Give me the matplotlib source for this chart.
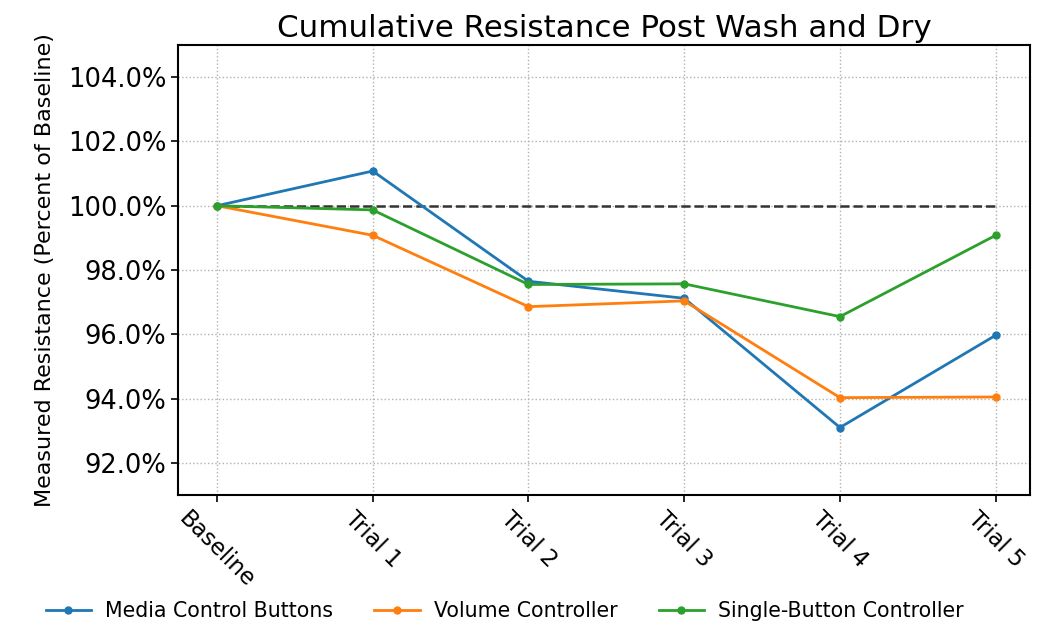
import matplotlib
matplotlib.use("Agg")
import matplotlib.pyplot as plt
from matplotlib.ticker import FuncFormatter

# Categories and measured resistance (percent of baseline)
categories = ["Baseline", "Trial 1", "Trial 2", "Trial 3", "Trial 4", "Trial 5"]
media_control = [100.0, 101.08, 97.65, 97.12, 93.10, 95.97]
volume_controller = [100.0, 99.08, 96.86, 97.04, 94.03, 94.05]
single_button = [100.0, 99.87, 97.55, 97.57, 96.55, 99.08]
reference_level = [100.0] * len(categories)
y_ticks = [92, 94, 96, 98, 100, 102, 104]

plt.rcParams["font.family"] = ["DejaVu Sans"]

fig = plt.figure(figsize=(10.41, 6.27), dpi=100)
ax = fig.add_axes([0.171, 0.2105, 0.8184, 0.7177])

x = list(range(len(categories)))

ax.plot(x, reference_level, linestyle="--", color="#333333", linewidth=1.8, zorder=2)
ax.plot(x, media_control, marker="o", markersize=5, linewidth=2.0,
        color="#1f77b4", label="Media Control Buttons", zorder=3)
ax.plot(x, volume_controller, marker="o", markersize=5, linewidth=2.0,
        color="#ff7f0e", label="Volume Controller", zorder=3)
ax.plot(x, single_button, marker="o", markersize=5, linewidth=2.0,
        color="#2ca02c", label="Single-Button Controller", zorder=4)

ax.set_xlim(-0.25, 5.22)
ax.set_ylim(91, 105)
ax.set_xticks(x)
ax.set_xticklabels(categories, rotation=-45, fontsize=16.5)
ax.set_yticks(y_ticks)
ax.yaxis.set_major_formatter(FuncFormatter(lambda v, _: f"{v:.1f}%"))
ax.tick_params(axis="y", labelsize=18.5, length=5, width=1.2)
ax.tick_params(axis="x", length=5, width=1.2)

ax.grid(True, linestyle=":", color="#b0b0b0", linewidth=1.0)
for spine in ax.spines.values():
    spine.set_linewidth(1.5)
    spine.set_color("black")

ax.set_ylabel("Measured Resistance (Percent of Baseline)", fontsize=16, labelpad=9)
ax.set_title("Cumulative Resistance Post Wash and Dry", fontsize=22.3, pad=6)

fig.legend(loc="center", bbox_to_anchor=(0.485, 0.025), ncol=3, frameon=False,
           fontsize=14.8, handlelength=2.2, handletextpad=0.7, columnspacing=2.0)

fig.savefig("out.png", dpi=100)
